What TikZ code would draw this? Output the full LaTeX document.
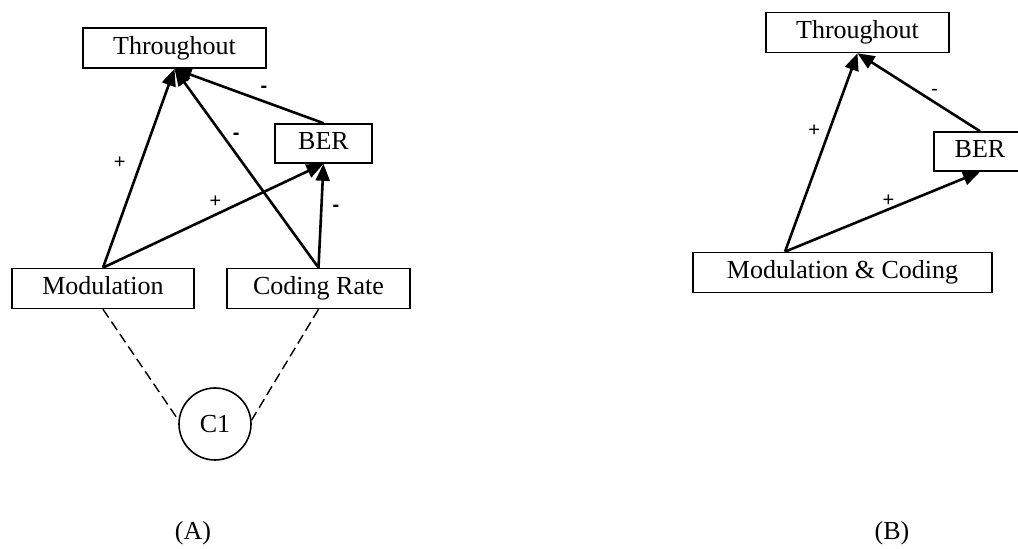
\documentclass[tikz,border=0pt]{standalone}
\usepackage{fontspec}
\setmainfont{Liberation Serif}
\newfontfamily\signfont{Liberation Sans}
\usepackage{tikz}
\usetikzlibrary{arrows.meta, positioning}
\tikzset{
	factor/.style = {draw, line width=0.8pt, inner sep=0pt, minimum height=20pt, text height=9pt, text depth=2.5pt, font=\fontsize{13}{15}\selectfont},
	link/.style = {line width=1.3pt, -{Triangle[length=8.5pt, width=7pt]}},
	sign/.style = {inner sep=0pt, font=\signfont\fontsize{10}{11}\selectfont},
	tie/.style = {line width=0.7pt, dash pattern=on 5pt off 2.5pt}
}

\begin{document}
\begin{tikzpicture}[x=0.5pt, y=-0.5pt]
				\useasboundingbox (0,0) rectangle (1018,549);
				
				% (A): separate modulation and coding rate
				\node [factor, minimum width=91.5pt] (thrA) at (174.5,48) {Throughout};
				\node [factor, minimum width=48.5pt, minimum height=19.5pt] (berA) at (323.5,143.5) {BER};
				\node [factor, minimum width=91pt] (modA) at (103,288.5) {Modulation};
				\node [factor, minimum width=91.5pt] (crA) at (318.5,288.5) {Coding Rate};
				\node [draw, circle, line width=0.8pt, minimum size=36pt, inner sep=0pt, font=\fontsize{13}{15}\selectfont] (c1) at (215,424) {C1};
				
				\draw [link] (modA.north) -- (thrA.south) node [sign, pos=.53, left=7pt] {+};
				\draw [link] (crA.north) -- (thrA.south) node [sign, pos=.66, right=4pt] {\bfseries -};
				\draw [link] (berA.north) -- (thrA.south) node [sign, pos=.4, above=4pt] {\bfseries -};
				\draw [link] (modA.north) -- (berA.south) node [sign, pos=.51, above=3pt] {+};
				\draw [link] (crA.north) -- (berA.south) node [sign, pos=.57, right=5pt] {\bfseries -};
				\draw [tie] (modA.south) -- (c1.174);
				\draw [tie] (crA.south) -- (c1.6);
				\node [font=\fontsize{13}{15}\selectfont] (capA) at (193,533) {(A)};
				
				% (B): joint modulation & coding
				\node [factor, minimum width=91.5pt] (thrB) at (857.5,32.5) {Throughout};
				\node [factor, minimum width=46pt, minimum height=19.5pt] (berB) at (980,151.5) {BER};
				\node [factor, minimum width=149.5pt] (mcB) at (842.5,272.5) {Modulation \& Coding};
				\coordinate (mcTop) at ([xshift=-28.75pt]mcB.north);
				
				\draw [link] (mcTop) -- (thrB.south) node [sign, pos=.61, left=4pt] {+};
				\draw [link] (mcTop) -- (berB.south) node [sign, pos=.53, above=1pt] {+};
				\draw [link] (berB.north) -- (thrB.south) node [sign, pos=.37, above=3pt] {-};
				\node [font=\fontsize{13}{15}\selectfont] (capB) at (892,533) {(B)};
			\end{tikzpicture}
\end{document}
